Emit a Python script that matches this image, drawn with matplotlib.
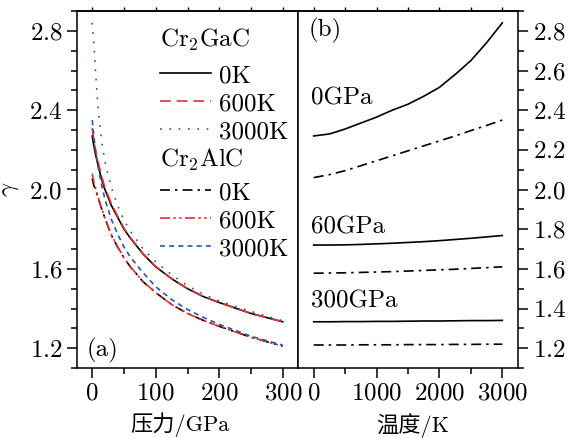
import matplotlib.pyplot as plt
from matplotlib.ticker import MultipleLocator

plt.rcParams['font.family'] = ['cmr10', 'Noto Sans CJK SC']
plt.rcParams['mathtext.fontset'] = 'cm'
plt.rcParams['axes.formatter.use_mathtext'] = True
plt.rcParams['font.size'] = 18

RED = '#e8302e'
BLUE = '#2456b0'

# panel (a): gamma vs pressure
pressure = [0, 2.5, 5, 10, 15, 20, 30, 40, 50, 60, 80, 100, 125, 150, 175, 200, 250, 300]
gac_0k = [2.27, 2.22, 2.18, 2.11, 2.05, 2.00, 1.92, 1.86, 1.80, 1.755, 1.675, 1.61,
          1.55, 1.50, 1.46, 1.43, 1.375, 1.333]
gac_600k = [2.31, 2.25, 2.20, 2.13, 2.065, 2.01, 1.93, 1.865, 1.805, 1.758, 1.677, 1.612,
            1.551, 1.501, 1.461, 1.43, 1.375, 1.333]
gac_3000k = [2.84, 2.74, 2.60, 2.38, 2.24, 2.14, 2.01, 1.92, 1.845, 1.79, 1.70, 1.635,
             1.57, 1.515, 1.473, 1.438, 1.385, 1.338]
alc_0k = [2.055, 2.02, 2.00, 1.95, 1.90, 1.855, 1.77, 1.71, 1.655, 1.61, 1.535, 1.48,
          1.42, 1.375, 1.34, 1.31, 1.255, 1.21]
alc_600k = [2.08, 2.04, 2.01, 1.955, 1.903, 1.857, 1.772, 1.711, 1.656, 1.611, 1.536, 1.48,
            1.42, 1.375, 1.34, 1.31, 1.255, 1.21]
alc_3000k = [2.35, 2.27, 2.20, 2.10, 2.02, 1.95, 1.85, 1.775, 1.71, 1.66, 1.58, 1.51,
             1.445, 1.395, 1.355, 1.32, 1.26, 1.215]

# panel (b): gamma vs temperature
temperature = [0, 250, 500, 750, 1000, 1250, 1500, 1750, 2000, 2250, 2500, 2750, 3000]
gac_0gpa = [2.27, 2.28, 2.305, 2.335, 2.365, 2.40, 2.43, 2.47, 2.515, 2.58, 2.65, 2.74, 2.84]
alc_0gpa = [2.06, 2.075, 2.095, 2.12, 2.145, 2.17, 2.195, 2.22, 2.245, 2.27, 2.297, 2.323, 2.35]
gac_60gpa = [1.72, 1.72, 1.721, 1.723, 1.726, 1.729, 1.733, 1.737, 1.742, 1.748, 1.754, 1.761, 1.768]
alc_60gpa = [1.578, 1.579, 1.58, 1.582, 1.584, 1.586, 1.589, 1.592, 1.595, 1.598, 1.602, 1.606, 1.61]
gac_300gpa = [1.333, 1.333, 1.334, 1.334, 1.335, 1.335, 1.336, 1.337, 1.337, 1.338, 1.339, 1.339, 1.34]
alc_300gpa = [1.216, 1.216, 1.216, 1.217, 1.217, 1.217, 1.218, 1.218, 1.218, 1.219, 1.219, 1.22, 1.22]

fig = plt.figure(figsize=(5.68, 4.38), dpi=100)
ax1 = fig.add_axes([77 / 568, 70 / 438, 221 / 568, 357 / 438])
ax2 = fig.add_axes([298 / 568, 70 / 438, 220 / 568, 357 / 438])

lw = 1.2
dashdot = (0, (6, 3, 1.5, 3))
h1, = ax1.plot(pressure, gac_0k, color='black', lw=lw, label='0K')
h2, = ax1.plot(pressure, gac_600k, color=RED, lw=lw, ls=(0, (6.5, 3.5)), label='600K')
h3, = ax1.plot(pressure, gac_3000k, color=BLUE, lw=lw, ls=(0, (1, 4.6)), label='3000K')
h4, = ax1.plot(pressure, alc_0k, color='black', lw=lw, ls=dashdot, label='0K')
h5, = ax1.plot(pressure, alc_600k, color=RED, lw=lw, ls=(0, (6, 2, 1.5, 2, 1.5, 2)), label='600K')
h6, = ax1.plot(pressure, alc_3000k, color=BLUE, lw=lw, ls=(0, (3, 2.5)), label='3000K')

leg_kw = dict(loc='upper left', frameon=False, borderpad=0, borderaxespad=0,
              handlelength=2.05, handletextpad=0.3, labelspacing=0.22, fontsize=18)
ax1.text(0.3756, 0.919, 'Cr$_2$GaC', transform=ax1.transAxes, va='center', ha='left')
leg1 = ax1.legend(handles=[h1, h2, h3], bbox_to_anchor=(0.3756, 0.85), **leg_kw)
ax1.add_artist(leg1)
ax1.text(0.3756, 0.583, 'Cr$_2$AlC', transform=ax1.transAxes, va='center', ha='left')
ax1.legend(handles=[h4, h5, h6], bbox_to_anchor=(0.3756, 0.522), **leg_kw)

ax1.text(-9, 1.19, '(a)', va='center', ha='left')
ax1.set_xlim(-24, 324)
ax1.set_ylim(1.1, 2.9)
ax1.xaxis.set_major_locator(MultipleLocator(100))
ax1.xaxis.set_minor_locator(MultipleLocator(50))
ax1.yaxis.set_major_locator(MultipleLocator(0.4))
ax1.yaxis.set_minor_locator(MultipleLocator(0.1))
ax1.tick_params(which='both', direction='out', top=False, right=False, width=1.1)
ax1.tick_params(which='major', length=7)
ax1.tick_params(which='minor', length=4)
ax1.set_xlabel('压力/GPa', fontsize=16, va='center')
ax1.set_ylabel(r'$\gamma$')
ax1.xaxis.set_label_coords(0.466, -0.16)
ax1.yaxis.set_label_coords(-0.255, 0.5)

ax2.plot(temperature, gac_0gpa, color='black', lw=lw)
ax2.plot(temperature, alc_0gpa, color='black', lw=lw, ls=dashdot)
ax2.plot(temperature, gac_60gpa, color='black', lw=lw)
ax2.plot(temperature, alc_60gpa, color='black', lw=lw, ls=dashdot)
ax2.plot(temperature, gac_300gpa, color='black', lw=lw)
ax2.plot(temperature, alc_300gpa, color='black', lw=lw, ls=dashdot)

ax2.text(-40, 2.46, '0GPa', va='center', ha='left')
ax2.text(-40, 1.81, '60GPa', va='center', ha='left')
ax2.text(-40, 1.435, '300GPa', va='center', ha='left')
ax2.text(-80, 2.80, '(b)', va='center', ha='left')

ax2.set_xlim(-250, 3250)
ax2.set_ylim(1.1, 2.9)
ax2.xaxis.set_major_locator(MultipleLocator(1000))
ax2.xaxis.set_minor_locator(MultipleLocator(500))
ax2.yaxis.set_major_locator(MultipleLocator(0.2))
ax2.yaxis.set_minor_locator(MultipleLocator(0.1))
ax2.yaxis.tick_right()
ax2.tick_params(which='both', direction='out', left=False, top=False, width=1.1)
ax2.tick_params(which='major', length=7)
ax2.tick_params(which='minor', length=4)
ax2.set_xlabel('温度/K', fontsize=16, va='center')
ax2.xaxis.set_label_coords(0.523, -0.16)

for ax in (ax1, ax2):
    for sp in ax.spines.values():
        sp.set_linewidth(1.1)
    top = ax.secondary_xaxis('top')
    top.xaxis.set_major_locator(MultipleLocator(100 if ax is ax1 else 1000))
    top.xaxis.set_minor_locator(MultipleLocator(50 if ax is ax1 else 500))
    top.tick_params(which='both', direction='out', length=3, labeltop=False, width=1.0)
    top.spines['top'].set_linewidth(1.1)

fig.savefig('out.png', dpi=100)
